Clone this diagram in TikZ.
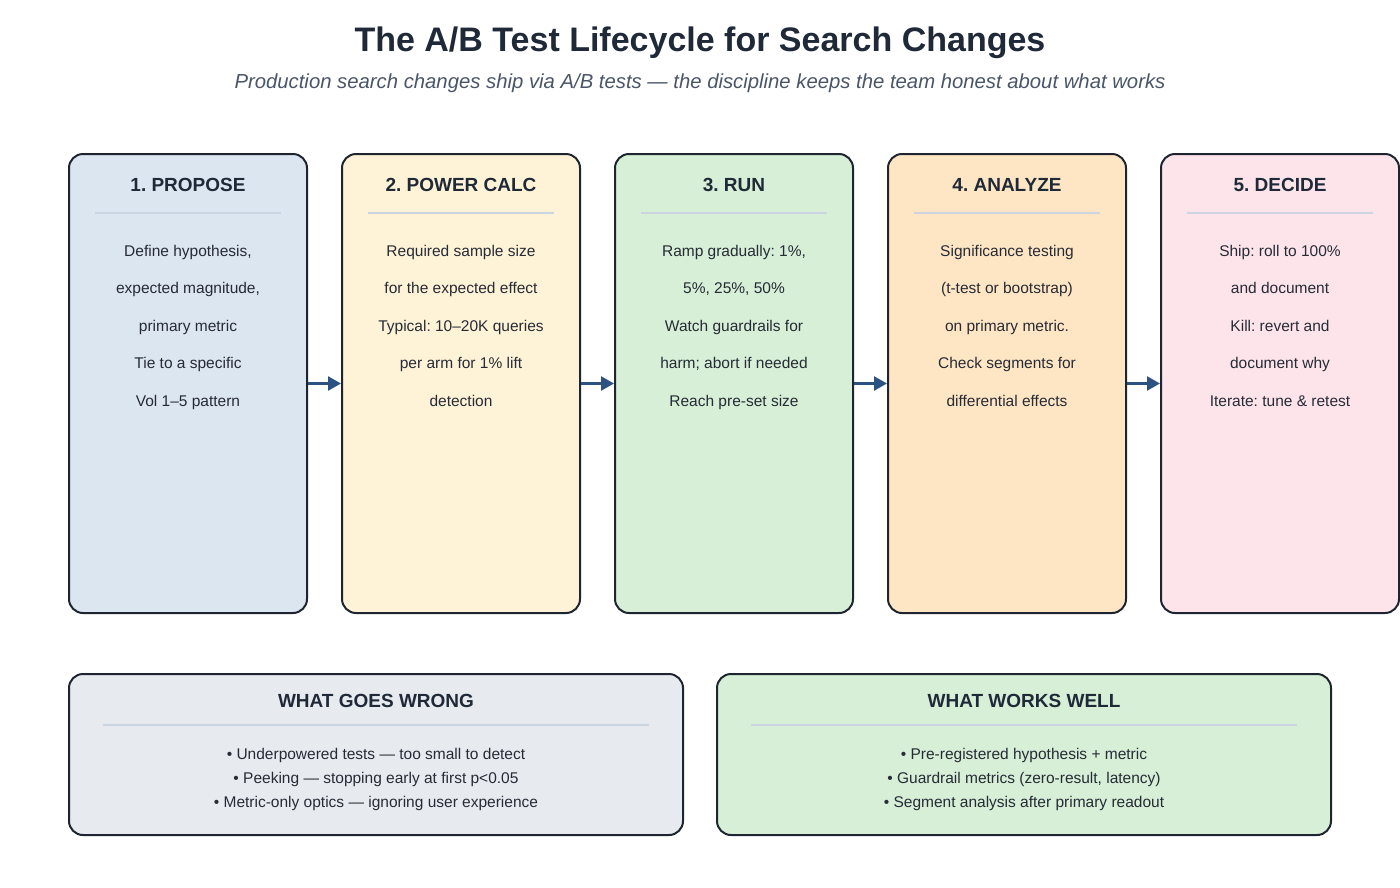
\documentclass[tikz,border=0pt]{standalone}
\usepackage{fontspec}
\setmainfont{Liberation Sans}
\frenchspacing
\usetikzlibrary{arrows.meta,positioning}
\definecolor{ink}{HTML}{1F2937}
\definecolor{subink}{HTML}{4A5568}
\definecolor{bodyink}{HTML}{262B36}
\definecolor{edge}{HTML}{1E2530}
\definecolor{rule}{HTML}{CBD5E1}
\definecolor{flowblue}{HTML}{2C5282}
\definecolor{proposefill}{HTML}{DCE6F0}
\definecolor{powerfill}{HTML}{FEF3D7}
\definecolor{runfill}{HTML}{D6EFD6}
\definecolor{analyzefill}{HTML}{FEE6C4}
\definecolor{decidefill}{HTML}{FCE4EA}
\definecolor{wrongfill}{HTML}{E7EAEF}
\definecolor{worksfill}{HTML}{D6EFD6}
\tikzset{
    stagebox/.style={draw=edge, line width=2pt, rounded corners=14pt,
        minimum width=238pt, minimum height=459pt, inner sep=0pt},
    notebox/.style={draw=edge, line width=2pt, rounded corners=14pt,
        minimum width=614pt, minimum height=161pt, inner sep=0pt},
    stagetitle/.style={text=ink, font=\fontsize{19}{22}\selectfont\bfseries, inner sep=0pt},
    bodytext/.style={text=bodyink, font=\fontsize{15.5}{18}\selectfont, inner sep=0pt, anchor=base},
    divider/.style={draw=rule, line width=2.5pt},
    flow/.style={draw=flowblue, line width=2.5pt, -{Triangle[length=13pt,width=14pt]}}
}
% one stage of the lifecycle: name, x centre, fill, title, lines
\newcommand{\stage}[5]{
    \node[stagebox, fill=#3] (#1) at (#2,383.5) {};
    \node[stagetitle] (#1-title) at (#2,185) {#4};
    \draw[divider] (#2-93,213) -- (#2+93,213);
    \foreach \ln [count=\k] in {#5}
        \node[bodytext] (#1-l\k) at (#2,256+37.5*\k-37.5) {\ln};
}
\begin{document}
\begin{tikzpicture}[x=1pt, y=-1pt]
    \useasboundingbox (0,0) rectangle (1400,887);

    % heading
    \node[text=ink, font=\fontsize{34}{40}\selectfont\bfseries] (title) at (700,43)
        {The A/B Test Lifecycle for Search Changes};
    \node[text=subink, font=\fontsize{20.3}{24}\selectfont\itshape] (subtitle) at (700,83)
        {Production search changes ship via A/B tests — the discipline keeps the team honest about what works};

    % the five stages
    \stage{propose}{188}{proposefill}{1. PROPOSE}
        {{Define hypothesis,}, {expected magnitude,}, primary metric, Tie to a specific, Vol 1–5 pattern}
    \stage{power}{461}{powerfill}{2. POWER CALC}
        {Required sample size, for the expected effect, Typical: 10–20K queries, per arm for 1\% lift, detection}
    \stage{run}{734}{runfill}{3. RUN}
        {{Ramp gradually: 1\%,}, {5\%, 25\%, 50\%}, Watch guardrails for, harm; abort if needed, Reach pre-set size}
    \stage{analyze}{1007}{analyzefill}{4. ANALYZE}
        {Significance testing, (t-test or bootstrap), on primary metric., Check segments for, differential effects}
    \stage{decide}{1280}{decidefill}{5. DECIDE}
        {Ship: roll to 100\%, and document, Kill: revert and, document why, Iterate: tune \& retest}

    % arrows between stages
    \draw[flow] (propose.east) -- (power.west);
    \draw[flow] (power.east) -- (run.west);
    \draw[flow] (run.east) -- (analyze.west);
    \draw[flow] (analyze.east) -- (decide.west);

    % bottom notes
    \node[notebox, fill=wrongfill] (wrong) at (376,754.5) {};
    \node[stagetitle] (wrong-title) at (376,701) {WHAT GOES WRONG};
    \draw[divider] (103,725) -- (649,725);
    \node[bodytext] (wrong-l1) at (376,759) {• Underpowered tests — too small to detect};
    \node[bodytext] (wrong-l2) at (376,783) {• Peeking — stopping early at first p<0.05};
    \node[bodytext] (wrong-l3) at (376,807) {• Metric-only optics — ignoring user experience};

    \node[notebox, fill=worksfill] (works) at (1024,754.5) {};
    \node[stagetitle] (works-title) at (1024,701) {WHAT WORKS WELL};
    \draw[divider] (751,725) -- (1297,725);
    \node[bodytext] (works-l1) at (1024,759) {• Pre-registered hypothesis + metric};
    \node[bodytext] (works-l2) at (1024,783) {• Guardrail metrics (zero-result, latency)};
    \node[bodytext] (works-l3) at (1024,807) {• Segment analysis after primary readout};
\end{tikzpicture}
\end{document}
